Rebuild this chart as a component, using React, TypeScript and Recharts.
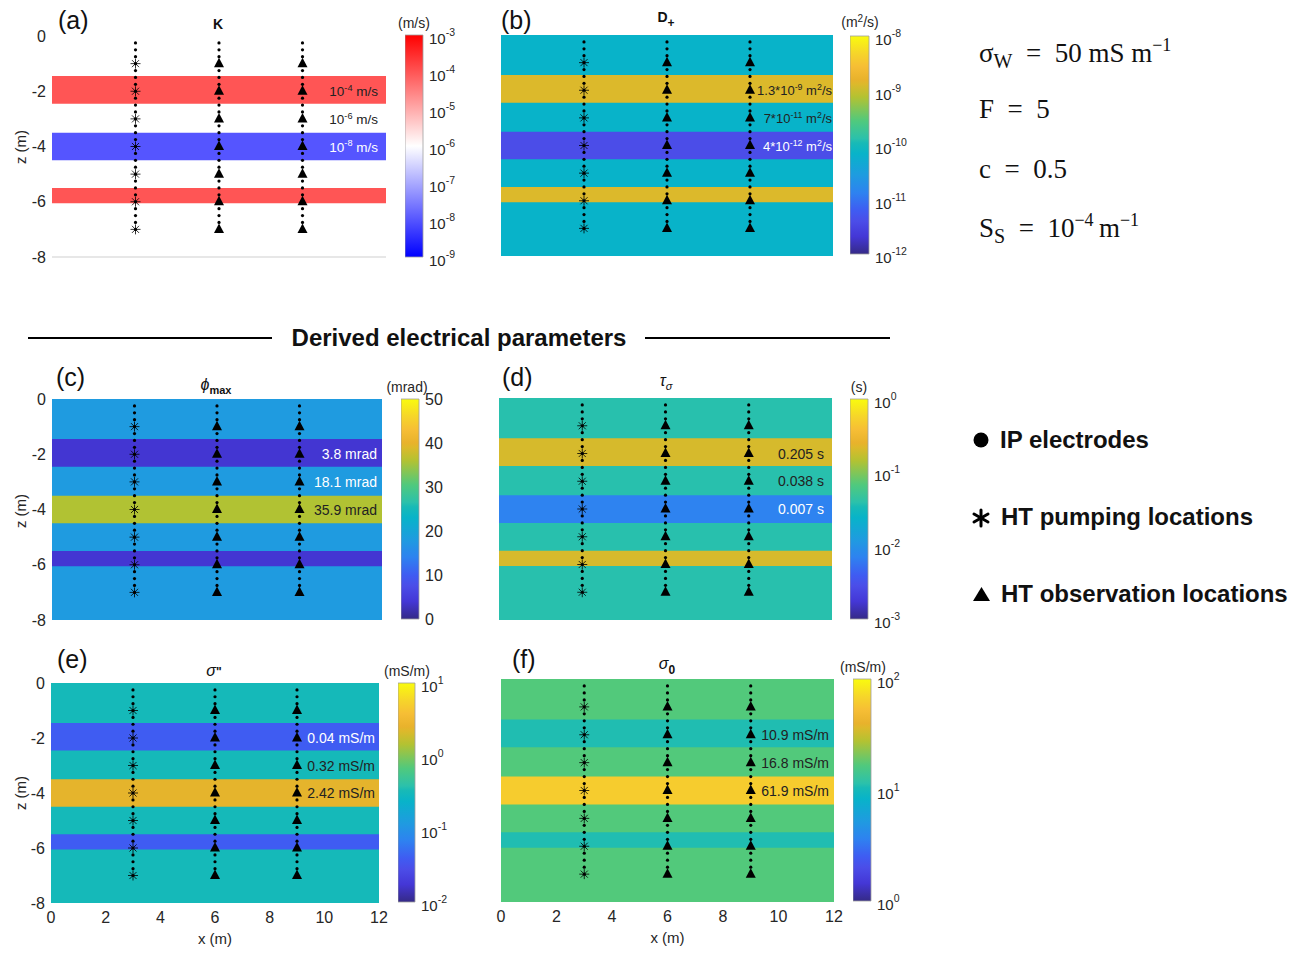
import React from 'react';
import { ComposedChart, XAxis, YAxis, Scatter, ReferenceArea, ReferenceLine } from 'recharts';

// layered model geometry (depth in m, negative down)
const layerTop = [-1.45, -3.5, -5.5];
const layerBottom = [-2.45, -4.5, -6.05];
const labelDepths = [-2, -3, -4];

const boreholeX = [3, 6, 9];
const pumpingX = [3];
const observationX = [6, 9];
const portDepths = [-1, -2, -3, -4, -5, -6, -7];
const electrodeDepths = [
  -0.25, -0.5, -0.75, -1, -1.25, -1.5, -1.75, -2, -2.25, -2.5, -2.75, -3, -3.25, -3.5,
  -3.75, -4, -4.25, -4.5, -4.75, -5, -5.25, -5.5, -5.75, -6, -6.25, -6.5, -6.75, -7,
];

const xTicks = [0, 2, 4, 6, 8, 10, 12];
const zTicks = [0, -2, -4, -6, -8];

// background value first, then the three layers (top to bottom)
const kValues = [1e-6, 1e-4, 1e-8, 1e-4];
const dValues = [7e-11, 1.3e-9, 4e-12, 1.3e-9];
const phiValues = [18.1, 3.8, 35.9, 3.8];
const tauValues = [0.038, 0.205, 0.007, 0.205];
const sigImValues = [0.32, 0.04, 2.42, 0.04];
const sig0Values = [16.8, 10.9, 61.9, 10.9];

// annotations at z = -2, -3, -4
const kLabels = ['10^{-4} m/s', '10^{-6} m/s', '10^{-8} m/s'];
const dLabels = ['1.3*10^{-9} m^{2}/s', '7*10^{-11} m^{2}/s', '4*10^{-12} m^{2}/s'];
const phiLabels = ['3.8 mrad', '18.1 mrad', '35.9 mrad'];
const tauLabels = ['0.205 s', '0.038 s', '0.007 s'];
const sigImLabels = ['0.04 mS/m', '0.32 mS/m', '2.42 mS/m'];
const sig0Labels = ['10.9 mS/m', '16.8 mS/m', '61.9 mS/m'];

// colorbar ticks (exponents for log bars)
const kTicks = [-9, -8, -7, -6, -5, -4, -3];
const dTicks = [-12, -11, -10, -9, -8];
const phiTicks = [0, 10, 20, 30, 40, 50];
const tauTicks = [-3, -2, -1, 0];
const sigImTicks = [-2, -1, 0, 1];
const sig0Ticks = [0, 1, 2];

const INK = '#262626';
const DARK = '#222';
const LIGHT = '#ffffff';

const parula: [number, string][] = [
  [0, '#352A87'], [0.08, '#4437D6'], [0.15, '#4B4DE8'], [0.2, '#3F5CF2'], [0.28, '#2E82F0'],
  [0.36, '#1F9BE0'], [0.46, '#08B3C9'], [0.51, '#18BAB6'], [0.53, '#2BC1AB'], [0.61, '#50C97D'],
  [0.72, '#B3C232'], [0.78, '#DDB92B'], [0.8, '#E8B22C'], [0.86, '#F6BE35'], [0.92, '#F6D52A'], [1, '#F9FB0E'],
];
const bwr: [number, string][] = [[0, '#0000FF'], [0.5, '#FFFFFF'], [1, '#FF0000']];

const hex = (c: string) => [1, 3, 5].map((i) => parseInt(c.slice(i, i + 2), 16));
function colorAt(stops: [number, string][], f: number) {
  const v = Math.max(0, Math.min(1, f));
  for (let i = 1; i < stops.length; i++) {
    if (v <= stops[i][0]) {
      const [p0, c0] = stops[i - 1];
      const [p1, c1] = stops[i];
      const k = (v - p0) / (p1 - p0);
      const a = hex(c0), b = hex(c1);
      return 'rgb(' + a.map((x, j) => Math.round(x + (b[j] - x) * k)).join(',') + ')';
    }
  }
  return stops[stops.length - 1][1];
}
const logNorm = (ticks: number[]) => (v: number) =>
  (Math.log10(v) - ticks[0]) / (ticks[ticks.length - 1] - ticks[0]);
const linNorm = (ticks: number[]) => (v: number) =>
  (v - ticks[0]) / (ticks[ticks.length - 1] - ticks[0]);

function rich(s: string, size: number) {
  const parts = s.split(/\^\{([^}]*)\}/);
  const out: React.ReactNode[] = [];
  let up = false;
  parts.forEach((part, i) => {
    if (!part) return;
    if (i % 2 === 1) {
      out.push(<tspan key={i} dy={-size * 0.38} fontSize={size * 0.68}>{part}</tspan>);
      up = true;
    } else {
      out.push(<tspan key={i} dy={up ? size * 0.38 : 0}>{part}</tspan>);
      up = false;
    }
  });
  return out;
}

const Dot = (p: any) => <circle cx={p.cx} cy={p.cy} r={1.6} fill="#000" />;
const Star = (p: any) => {
  const s = 5, d = s * 0.7071;
  return (
    <g stroke="#000" strokeWidth={0.8}>
      <line x1={p.cx - s} y1={p.cy} x2={p.cx + s} y2={p.cy} />
      <line x1={p.cx} y1={p.cy - s} x2={p.cx} y2={p.cy + s} />
      <line x1={p.cx - d} y1={p.cy - d} x2={p.cx + d} y2={p.cy + d} />
      <line x1={p.cx - d} y1={p.cy + d} x2={p.cx + d} y2={p.cy - d} />
    </g>
  );
};
const Tri = (p: any) => (
  <path d={`M${p.cx},${p.cy - 6}L${p.cx + 5},${p.cy + 3.5}L${p.cx - 5},${p.cy + 3.5}Z`} fill="#000" />
);

const electrodes = boreholeX.flatMap((x) => electrodeDepths.map((z) => ({ x, z })));
const pumping = pumpingX.flatMap((x) => portDepths.map((z) => ({ x, z })));
const observation = observationX.flatMap((x) => portDepths.map((z) => ({ x, z })));

type Box = { l: number; t: number; r: number; b: number };

function Panel({ box, values, norm, stops, labels, labelFills, labelPad, labelSize = 14, showY = false, showX = false, baseLine = false }: any) {
  const { l, t, r, b } = box as Box;
  const fills = values.map((v: number) => colorAt(stops, norm(v)));
  const axisW = 50;
  const pad = 14;
  const bands = layerTop.map((top, i) => ({ top, bottom: layerBottom[i], fill: fills[i + 1] }));
  const texts = labelDepths.map((z, i) => ({ x: xTicks[xTicks.length - 1], z, text: labels[i], fill: labelFills[i] }));
  return (
    <div style={{ position: 'absolute', left: l - axisW, top: t - pad }}>
      <ComposedChart
        width={r - l + axisW + pad}
        height={b - t + pad + (showX ? 52 : pad)}
        margin={{ top: pad, right: pad, bottom: showX ? 22 : pad, left: showY ? 0 : axisW }}
      >
        <XAxis
          type="number" dataKey="x" domain={[0, 12]} ticks={xTicks} interval={0} hide={!showX} height={30}
          axisLine={false} tickLine={false} tickSize={0} tickMargin={9}
          tick={{ fontSize: 16, fill: INK }}
          label={{ value: 'x (m)', position: 'bottom', offset: 0, fontSize: 15, fill: INK }}
        />
        <YAxis
          type="number" dataKey="z" domain={[-8, 0]} ticks={zTicks} interval={0} hide={!showY} width={axisW}
          axisLine={false} tickLine={false} tickSize={4} tickMargin={2}
          tick={{ fontSize: 16, fill: INK }}
        />
        <ReferenceArea x1={0} x2={12} y1={-8} y2={0} fill={fills[0]} fillOpacity={1} stroke="none" />
        {bands.map((bd, i) => (
          <ReferenceArea key={i} x1={0} x2={12} y1={bd.bottom} y2={bd.top} fill={bd.fill} fillOpacity={1} stroke="none" />
        ))}
        {baseLine && <ReferenceLine y={-8} stroke="#cfcfcf" strokeWidth={1} />}
        <Scatter data={electrodes} dataKey="z" shape={Dot} isAnimationActive={false} />
        <Scatter data={pumping} dataKey="z" shape={Star} isAnimationActive={false} />
        <Scatter data={observation} dataKey="z" shape={Tri} isAnimationActive={false} />
        <Scatter
          data={texts} dataKey="z" isAnimationActive={false}
          shape={(p: any) => {
            const d = p.payload ?? p;
            return (
              <text x={p.cx - labelPad} y={p.cy + 5} textAnchor="end" fontSize={labelSize} fill={d.fill}>
                {rich(d.text, labelSize)}
              </text>
            );
          }}
        />
      </ComposedChart>
    </div>
  );
}

function CbTick({ x, y, payload, log }: any) {
  if (log) {
    return (
      <text x={x} y={y + 9} fontSize={15} fill={INK}>
        10<tspan dy={-8} fontSize={10.5}>{payload.value}</tspan>
      </text>
    );
  }
  return <text x={x} y={y + 6} fontSize={16} fill={INK}>{payload.value}</text>;
}

function ColorBar({ box, ticks, log = false, stops, id }: any) {
  const { l, t, r, b } = box as Box;
  const lo = ticks[0];
  const hi = ticks[ticks.length - 1];
  const pad = 16;
  const ends = [{ x: 0, z: lo }, { x: 1, z: hi }];
  return (
    <div style={{ position: 'absolute', left: l, top: t - pad }}>
      <ComposedChart width={r - l + 52} height={b - t + 2 * pad} data={ends} margin={{ top: pad, right: 0, bottom: pad, left: 0 }}>
        <defs>
          <linearGradient id={id} x1="0" y1="1" x2="0" y2="0">
            {stops.map(([o, c]: [number, string]) => <stop key={o} offset={o} stopColor={c} />)}
          </linearGradient>
        </defs>
        <XAxis type="number" dataKey="x" domain={[0, 1]} hide />
        <YAxis
          type="number" dataKey="z" orientation="right" domain={[lo, hi]} ticks={ticks} interval={0} width={52}
          axisLine={false} tickLine={false} tickSize={3} tickMargin={3}
          tick={(p: any) => <CbTick {...p} log={log} />}
        />
        <ReferenceArea x1={0} x2={1} y1={lo} y2={hi} fill={`url(#${id})`} fillOpacity={1} stroke="#a0a0a0" strokeWidth={0.8} />
      </ComposedChart>
    </div>
  );
}

function Overlay() {
  const letters: [string, number, number][] = [
    ['(a)', 58, 29], ['(b)', 501, 29], ['(c)', 56, 386], ['(d)', 502, 386], ['(e)', 57, 668], ['(f)', 512, 668],
  ];
  const zLabels = [147, 511, 793];
  const serif = "'Liberation Serif', 'DejaVu Serif', serif";
  return (
    <svg width={1300} height={953} style={{ position: 'absolute', left: 0, top: 0, pointerEvents: 'none' }}>
      {letters.map(([s, x, y]) => (
        <text key={s} x={x} y={y} fontSize={25} fill="#111">{s}</text>
      ))}
      {zLabels.map((y) => (
        <text key={y} transform={`translate(26,${y}) rotate(-90)`} textAnchor="middle" fontSize={15} fill={INK}>z (m)</text>
      ))}

      {/* panel titles */}
      <text x={218} y={29} textAnchor="middle" fontSize={14} fontWeight="bold" fill="#111">K</text>
      <text x={666} y={22} textAnchor="middle" fontSize={14} fontWeight="bold" fill="#111">
        D<tspan dy={5} fontSize={12}>+</tspan>
      </text>
      <text x={216} y={390} textAnchor="middle" fill="#111">
        <tspan fontSize={16} fontStyle="italic">ϕ</tspan>
        <tspan dy={4} fontSize={11} fontWeight="bold">max</tspan>
      </text>
      <text x={666} y={386} textAnchor="middle" fill="#111">
        <tspan fontSize={16} fontStyle="italic">τ</tspan>
        <tspan dy={4} fontSize={11} fontStyle="italic">σ</tspan>
      </text>
      <text x={214} y={676} textAnchor="middle" fill="#111">
        <tspan fontSize={16} fontStyle="italic">σ</tspan>
        <tspan fontSize={12} fontWeight="bold">"</tspan>
      </text>
      <text x={667} y={669} textAnchor="middle" fill="#111">
        <tspan fontSize={16} fontStyle="italic">σ</tspan>
        <tspan dy={5} fontSize={12} fontWeight="bold">0</tspan>
      </text>

      {/* colorbar units */}
      <text x={414} y={28} textAnchor="middle" fontSize={14} fill={INK}>(m/s)</text>
      <text x={860} y={27} textAnchor="middle" fontSize={14} fill={INK}>
        (m<tspan dy={-5} fontSize={10}>2</tspan><tspan dy={5}>/s)</tspan>
      </text>
      <text x={407} y={392} textAnchor="middle" fontSize={14} fill={INK}>(mrad)</text>
      <text x={859} y={392} textAnchor="middle" fontSize={14} fill={INK}>(s)</text>
      <text x={407} y={676} textAnchor="middle" fontSize={14} fill={INK}>(mS/m)</text>
      <text x={863} y={672} textAnchor="middle" fontSize={14} fill={INK}>(mS/m)</text>

      {/* divider */}
      <line x1={28} y1={338} x2={272} y2={338} stroke="#000" strokeWidth={2} />
      <line x1={645} y1={338} x2={890} y2={338} stroke="#000" strokeWidth={2} />
      <text x={459} y={346} textAnchor="middle" fontSize={24} fontWeight="bold" fill="#111">Derived electrical parameters</text>

      {/* constants */}
      <g fontFamily={serif} fontSize={27} fill="#111">
        <text x={979} y={62}>
          σ<tspan dy={6} fontSize={20}>W</tspan><tspan dy={-6}>{'\u2002=\u2002'}50 mS m</tspan>
          <tspan dy={-11} fontSize={18}>−1</tspan>
        </text>
        <text x={979} y={118}>F{'\u2002=\u2002'}5</text>
        <text x={979} y={178}>c{'\u2002=\u2002'}0.5</text>
        <text x={979} y={237}>
          S<tspan dy={6} fontSize={20}>S</tspan><tspan dy={-6}>{'\u2002=\u2002'}10</tspan>
          <tspan dy={-11} fontSize={18}>−4</tspan><tspan dy={11}>{'\u2009'}m</tspan>
          <tspan dy={-11} fontSize={18}>−1</tspan>
        </text>
      </g>

      {/* legend */}
      <circle cx={981} cy={440} r={7.5} fill="#000" />
      <g stroke="#000" strokeWidth={3} strokeLinecap="round">
        <line x1={981} y1={510} x2={981} y2={526} />
        <line x1={974} y1={514} x2={988} y2={522} />
        <line x1={974} y1={522} x2={988} y2={514} />
      </g>
      <path d="M973,601 L990,601 L981.5,587 Z" fill="#000" />
      <g fontSize={24} fontWeight="bold" fill="#111">
        <text x={1000} y={448}>IP electrodes</text>
        <text x={1001} y={525}>HT pumping locations</text>
        <text x={1001} y={602}>HT observation locations</text>
      </g>
    </svg>
  );
}

export default function App() {
  return (
    <div
      style={{
        position: 'absolute', left: 0, top: 0, width: 1300, height: 953, background: '#fff',
        fontFamily: "'Liberation Sans', Arial, sans-serif",
      }}
    >
      <Panel box={{ l: 52, t: 36, r: 386, b: 257 }} values={kValues} norm={logNorm(kTicks)} stops={bwr}
        labels={kLabels} labelFills={[DARK, DARK, LIGHT]} labelPad={8} labelSize={13.5} showY baseLine />
      <ColorBar box={{ l: 405, t: 35, r: 423, b: 257 }} ticks={kTicks} log stops={bwr} id="cbK" />

      <Panel box={{ l: 501, t: 35, r: 833, b: 256 }} values={dValues} norm={logNorm(dTicks)} stops={parula}
        labels={dLabels} labelFills={[DARK, DARK, LIGHT]} labelPad={1} labelSize={13} />
      <ColorBar box={{ l: 850, t: 36, r: 869, b: 254 }} ticks={dTicks} log stops={parula} id="cbD" />

      <Panel box={{ l: 52, t: 399, r: 382, b: 620 }} values={phiValues} norm={linNorm(phiTicks)} stops={parula}
        labels={phiLabels} labelFills={[LIGHT, LIGHT, DARK]} labelPad={5} showY />
      <ColorBar box={{ l: 401, t: 399, r: 419, b: 619 }} ticks={phiTicks} stops={parula} id="cbPhi" />

      <Panel box={{ l: 499, t: 398, r: 832, b: 620 }} values={tauValues} norm={logNorm(tauTicks)} stops={parula}
        labels={tauLabels} labelFills={[DARK, DARK, LIGHT]} labelPad={8} />
      <ColorBar box={{ l: 850, t: 399, r: 868, b: 619 }} ticks={tauTicks} log stops={parula} id="cbTau" />

      <Panel box={{ l: 51, t: 683, r: 379, b: 903 }} values={sigImValues} norm={logNorm(sigImTicks)} stops={parula}
        labels={sigImLabels} labelFills={[LIGHT, DARK, DARK]} labelPad={4} showY showX />
      <ColorBar box={{ l: 398, t: 683, r: 415, b: 902 }} ticks={sigImTicks} log stops={parula} id="cbSi" />

      <Panel box={{ l: 501, t: 679, r: 834, b: 902 }} values={sig0Values} norm={logNorm(sig0Ticks)} stops={parula}
        labels={sig0Labels} labelFills={[DARK, DARK, DARK]} labelPad={5} showX />
      <ColorBar box={{ l: 853, t: 679, r: 871, b: 901 }} ticks={sig0Ticks} log stops={parula} id="cbS0" />

      <Overlay />
    </div>
  );
}
